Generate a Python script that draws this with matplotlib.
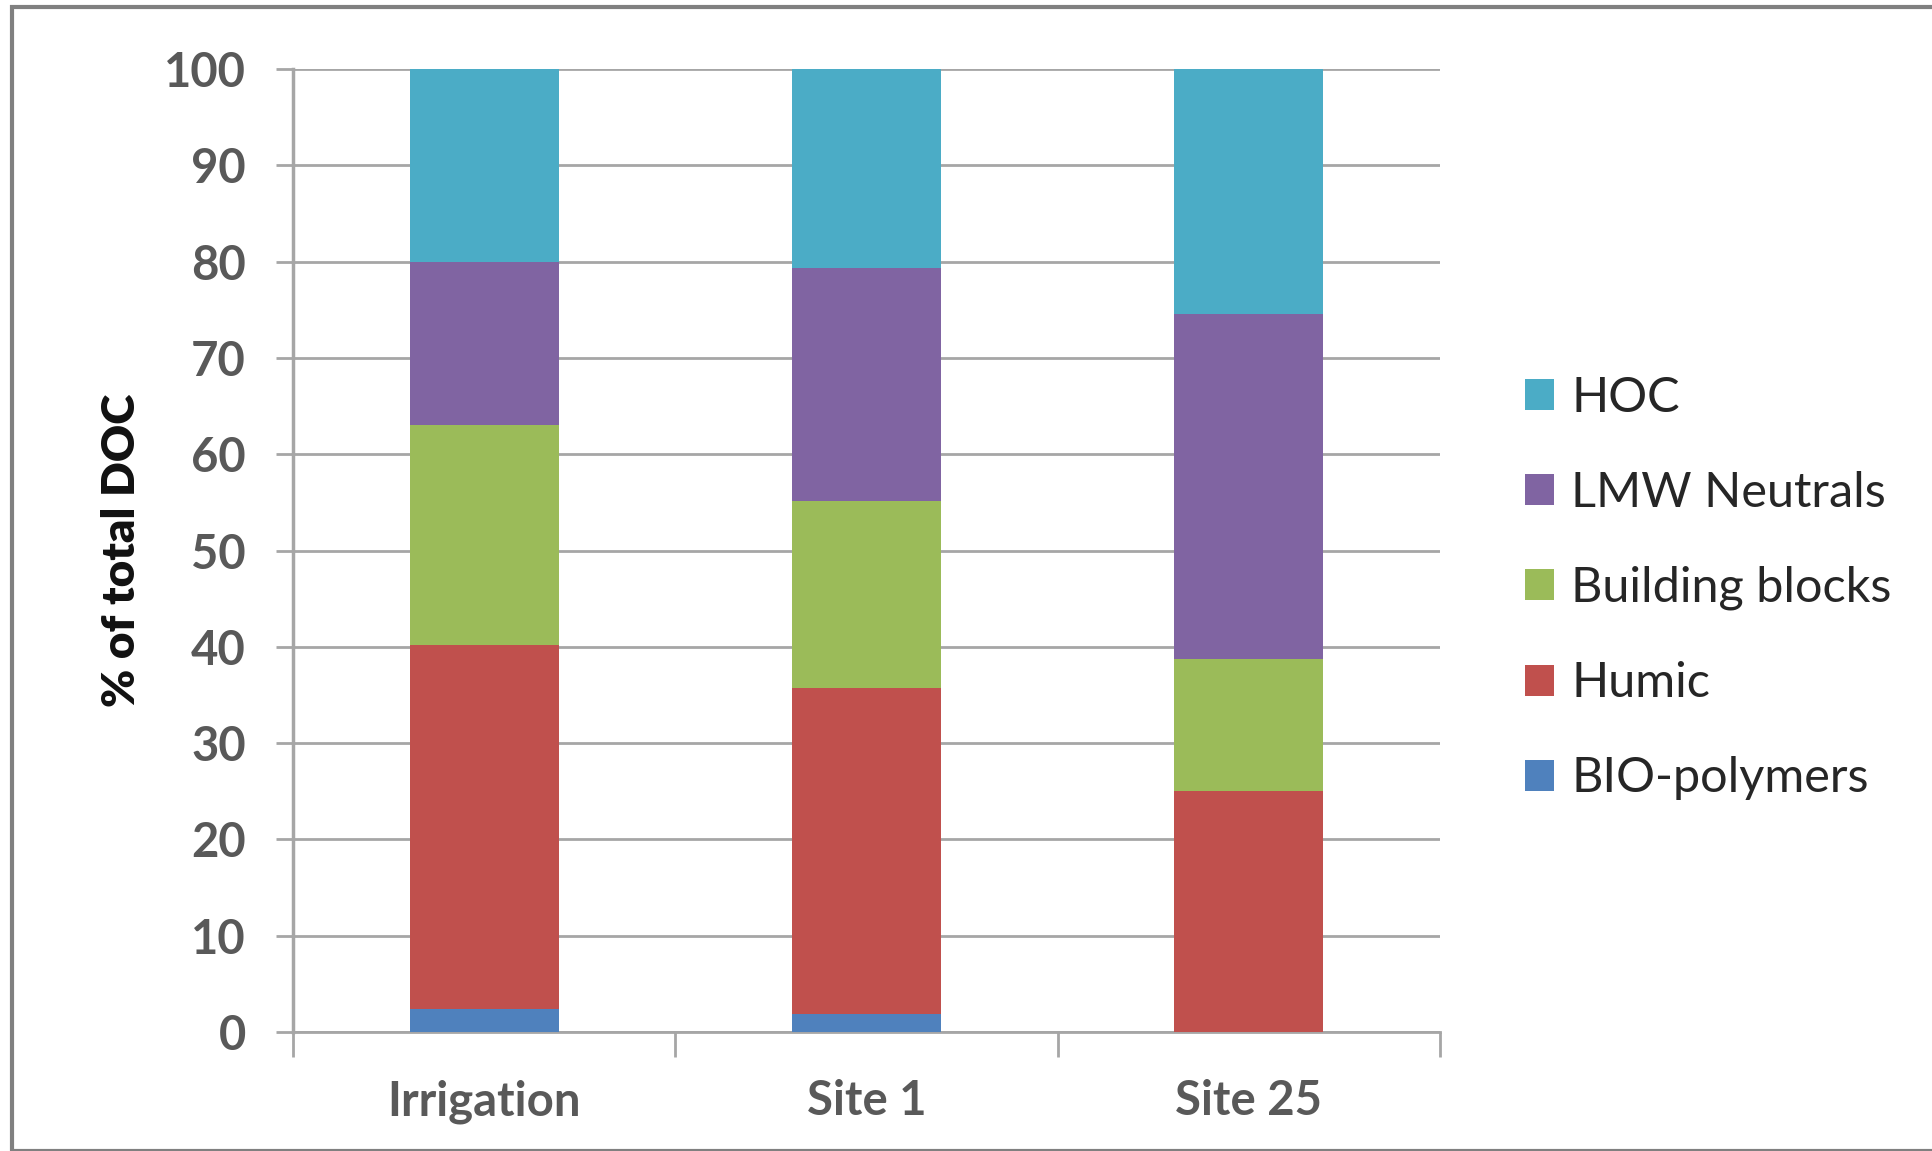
import matplotlib
matplotlib.use("Agg")
import matplotlib.pyplot as plt
from matplotlib.patches import Rectangle
import numpy as np

categories = ["Irrigation", "Site 1", "Site 25"]
series_names = ["BIO-polymers", "Humic", "Building blocks", "LMW Neutrals", "HOC"]
bio = [2.4, 1.9, 0.0]
humic = [37.8, 33.8, 25.0]
building = [22.8, 19.4, 13.7]
lmw = [17.0, 24.2, 35.9]
hoc = [20.0, 20.7, 25.4]
colors = ["#4F81BD", "#C0504D", "#9BBB59", "#8064A2", "#4BACC6"]
yticks = [0, 10, 20, 30, 40, 50, 60, 70, 80, 90, 100]

plt.rcParams['font.family'] = ['Lato', 'DejaVu Sans']

fig = plt.figure(figsize=(19.33, 11.51), dpi=100)
ax = fig.add_axes([0.1516, 0.1034, 0.745 - 0.1516, 0.940 - 0.1034])

x = np.arange(len(categories))
bottom = np.zeros(len(categories))
for vals, name, c in zip([bio, humic, building, lmw, hoc], series_names, colors):
    ax.bar(x, vals, width=0.39, bottom=bottom, color=c, label=name, zorder=3, linewidth=0)
    bottom += np.array(vals)

ax.set_xlim(-0.5, 2.5)
ax.set_ylim(0, 100)
ax.set_yticks(yticks)
ax.set_yticklabels([str(v) for v in yticks], fontsize=34, color="#595959", fontweight="bold")
ax.set_xticks(x)
ax.set_xticklabels(categories, fontsize=34, color="#595959", fontweight="bold")
ax.tick_params(axis='x', length=0, pad=34)
ax.tick_params(axis='y', length=12, width=2, color="#A6A6A6", pad=22)
# category boundary ticks
ax.set_xticks([-0.5, 0.5, 1.5, 2.5], minor=True)
ax.tick_params(axis='x', which='minor', length=18, width=2, color="#A6A6A6")

ax.grid(axis='y', color="#A6A6A6", linewidth=2, zorder=0)
for s in ['top', 'right']:
    ax.spines[s].set_visible(False)
ax.spines['left'].set_color("#A6A6A6")
ax.spines['left'].set_linewidth(2.5)
ax.spines['bottom'].set_color("#A6A6A6")
ax.spines['bottom'].set_linewidth(2)

ax.set_ylabel("% of total DOC", fontsize=33, fontweight="heavy", color="#111111", labelpad=16)

handles, labels = ax.get_legend_handles_labels()
leg = fig.legend(handles[::-1], labels[::-1], loc='center left',
                 bbox_to_anchor=(0.789, 0.489), frameon=False, fontsize=35,
                 handlelength=0.6, handleheight=0.6, handletextpad=0.35,
                 labelspacing=1.05, labelcolor="#262626", borderpad=0,
                 borderaxespad=0)

# outer border
fig.patches.append(Rectangle((0.006, 0.0), 1.0, 0.994, transform=fig.transFigure,
                             fill=False, edgecolor="#808080", linewidth=3))

fig.savefig("out.png", dpi=100)
